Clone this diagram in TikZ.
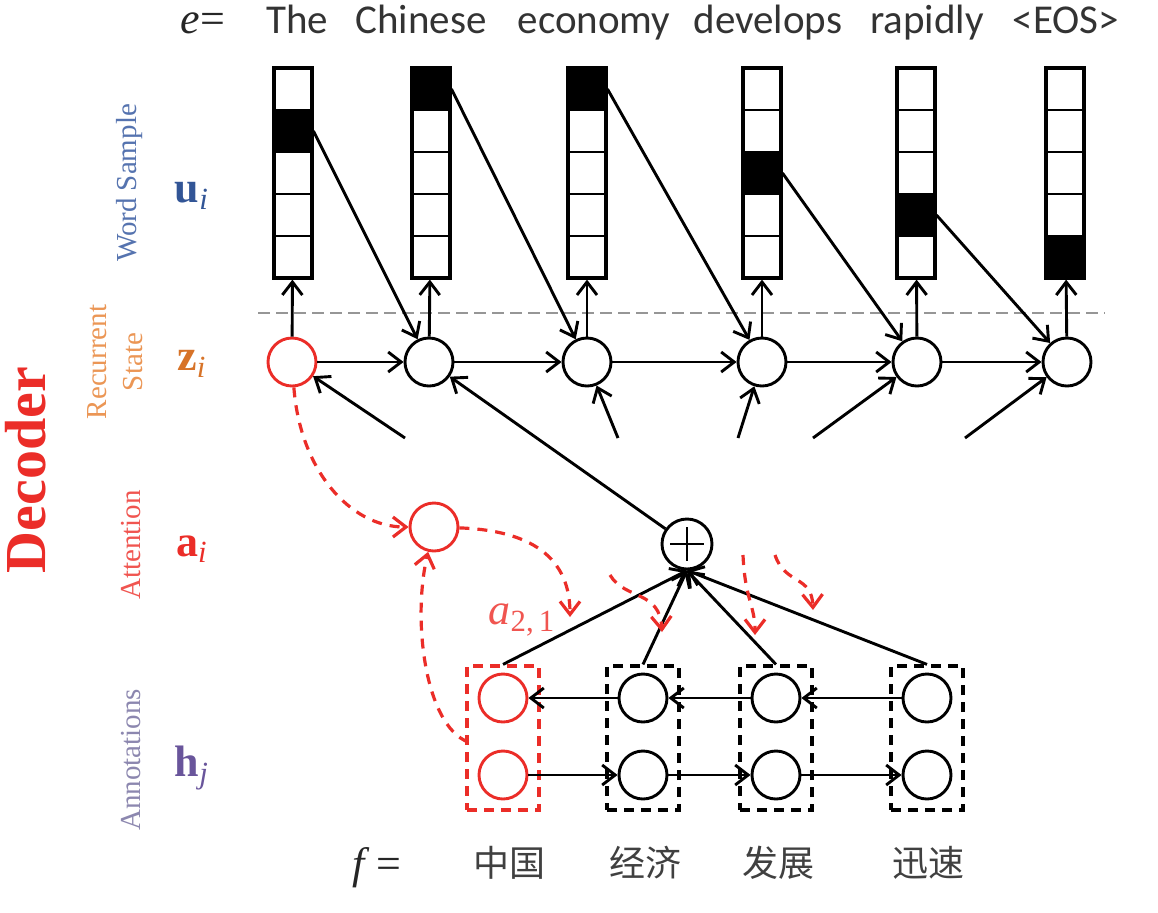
\documentclass[tikz,border=0pt]{standalone}
\usepackage{fontspec}
\setmainfont{Liberation Serif}
\newfontfamily\wordfont{Carlito}
\newfontfamily\cjk{Noto Sans CJK SC}
\usepackage{tikz}
\usetikzlibrary{arrows.meta}

\definecolor{decred}{RGB}{235,45,40}
\definecolor{wsblue}{RGB}{85,115,175}
\definecolor{ublue}{RGB}{50,85,150}
\definecolor{rsorange}{RGB}{235,150,85}
\definecolor{zorange}{RGB}{215,115,40}
\definecolor{attpink}{RGB}{240,85,80}
\definecolor{annpurple}{RGB}{140,135,175}
\definecolor{hpurple}{RGB}{105,85,155}
\definecolor{sepgray}{RGB}{150,150,150}

\tikzset{
  unit/.style={circle, draw, minimum size=24pt, inner sep=0pt},
  bar/.style={draw, line width=1.6pt, minimum width=19pt, minimum height=105pt, inner sep=0pt},
  hot/.style={fill=black, minimum width=19pt, minimum height=21pt, inner sep=0pt},
  pair/.style={draw, line width=1.6pt, dash pattern=on 5pt off 3.5pt, minimum width=36pt, minimum height=72pt, inner sep=0pt},
  attn/.style={->, decred, line width=1.6pt, dash pattern=on 5pt off 4pt},
  word/.style={anchor=base, text=black!80, font=\wordfont\fontsize{20.5}{22}\selectfont},
  side/.style={rotate=90, align=center, font=\fontsize{14.5}{18}\selectfont},
  sym/.style={font=\fontsize{22}{24}\selectfont},
  zh/.style={text=black!75, font=\cjk\fontsize{18}{20}\selectfont},
}

\begin{document}
\begin{tikzpicture}[x=0.5pt, y=-0.5pt, line width=1.45pt, >={Straight Barb[length=6.5pt,width=10pt]}]
\useasboundingbox (0,0) rectangle (1158,912);
% labels on the left
\node[rotate=90, text=decred, font=\bfseries\fontsize{29}{30}\selectfont] (dec) at (26,470) {Decoder};
\node[side, text=wsblue] (ws) at (130,183) {Word Sample};
\node[side, text=rsorange] (rs) at (115,362) {Recurrent\\State};
\node[side, text=attpink] (at) at (131,545) {Attention};
\node[side, text=annpurple] (an) at (131,760) {Annotations};
\node[sym, text=ublue] (ui) at (192,196) {\textbf{u}\textsubscript{\itshape i}};
\node[sym, text=zorange] (zi) at (192,364) {\textbf{z}\textsubscript{\itshape i}};
\node[sym, text=decred] (ai) at (192,549) {\textbf{a}\textsubscript{\itshape i}};
\node[sym, text=hpurple] (hj) at (192,768) {\textbf{h}\textsubscript{\itshape j}};
% target words
\node[anchor=base, text=black!85, font=\fontsize{22}{24}\selectfont] (e) at (203,33) {\textit{e}=};
\node[word] (t1) at (297,33) {The};
\node[word] (t2) at (421,33) {Chinese};
\node[word] (t3) at (594,33) {economy};
\node[word] (t4) at (768,33) {develops};
\node[word] (t5) at (927,33) {rapidly};
\node[word] (t6) at (1066,33) {<EOS>};
% word samples
\node[hot] (w1) at (293,131) {};
\node[hot] (w2) at (431,89) {};
\node[hot] (w3) at (587,89) {};
\node[hot] (w4) at (762,173) {};
\node[hot] (w5) at (916,215) {};
\node[hot] (w6) at (1065,257) {};
\node[bar] (u1) at (293,173) {};
\node[bar] (u2) at (431,173) {};
\node[bar] (u3) at (587,173) {};
\node[bar] (u4) at (762,173) {};
\node[bar] (u5) at (916,173) {};
\node[bar] (u6) at (1065,173) {};
\draw (274,110) -- (312,110) (274,152) -- (312,152) (274,194) -- (312,194) (274,236) -- (312,236);
\draw (412,110) -- (450,110) (412,152) -- (450,152) (412,194) -- (450,194) (412,236) -- (450,236);
\draw (568,110) -- (606,110) (568,152) -- (606,152) (568,194) -- (606,194) (568,236) -- (606,236);
\draw (743,110) -- (781,110) (743,152) -- (781,152) (743,194) -- (781,194) (743,236) -- (781,236);
\draw (897,110) -- (935,110) (897,152) -- (935,152) (897,194) -- (935,194) (897,236) -- (935,236);
\draw (1046,110) -- (1084,110) (1046,152) -- (1084,152) (1046,194) -- (1084,194) (1046,236) -- (1084,236);
\coordinate (sepL) at (258,313);
\coordinate (sepR) at (1105,313);
\draw[sepgray, dash pattern=on 6pt off 3pt] (sepL) -- (sepR);
% recurrent states
\node[unit, draw=decred] (z1) at (292,362) {};
\node[unit] (z2) at (429,362) {};
\node[unit] (z3) at (587,362) {};
\node[unit] (z4) at (762,362) {};
\node[unit] (z5) at (917,362) {};
\node[unit] (z6) at (1067,362) {};
\draw[->] (z1) -- (u1);
\draw[->] (z2) -- (u2);
\draw[->] (z3) -- (u3);
\draw[->] (z4) -- (u4);
\draw[->] (z5) -- (u5);
\draw[->] (z6) -- (u6);
\draw[->] (z1) -- (z2);
\draw[->] (z2) -- (z3);
\draw[->] (z3) -- (z4);
\draw[->] (z4) -- (z5);
\draw[->] (z5) -- (z6);
\draw[->] (w1.east) -- (z2);
\draw[->] (w2.east) -- (z3);
\draw[->] (w3.east) -- (z4);
\draw[->] (w4.east) -- (z5);
\draw[->] (w5.east) -- (z6);
\coordinate (s1) at (405,438);
\coordinate (s3) at (618,438);
\coordinate (s4) at (738,438);
\coordinate (s5) at (813,438);
\coordinate (s6) at (965,438);
\draw[->] (s1) -- (z1);
\draw[->] (s3) -- (z3);
\draw[->] (s4) -- (z4);
\draw[->] (s5) -- (z5);
\draw[->] (s6) -- (z6);
% attention and context
\node[unit, draw=decred] (att) at (434,527) {};
\node[unit, minimum size=25pt, path picture={
  \draw[line width=1.2pt] ([yshift=-4pt]path picture bounding box.north) -- ([yshift=4pt]path picture bounding box.south)
  ([xshift=4pt]path picture bounding box.west) -- ([xshift=-4pt]path picture bounding box.east);}] (plus) at (687,544) {};
\draw[->] (plus) -- (z2);
% annotations
\node[pair, draw=decred] (p1) at (503,738) {};
\node[pair] (p2) at (643,738) {};
\node[pair] (p3) at (776,738) {};
\node[pair] (p4) at (927,738) {};
\node[unit, draw=decred] (b1) at (503,698) {};
\node[unit] (b2) at (643,698) {};
\node[unit] (b3) at (776,698) {};
\node[unit] (b4) at (927,698) {};
\node[unit, draw=decred] (f1) at (503,775) {};
\node[unit] (f2) at (643,775) {};
\node[unit] (f3) at (776,775) {};
\node[unit] (f4) at (927,775) {};
\draw[->] (b4) -- (b3);
\draw[->] (b3) -- (b2);
\draw[->] (b2) -- (b1);
\draw[->] (f1) -- (f2);
\draw[->] (f2) -- (f3);
\draw[->] (f3) -- (f4);
\draw[->] (p1.north) -- (plus.south);
\draw[->] (p2.north) -- (plus.south);
\draw[->] (p3.north) -- (plus.south);
\draw[->] (p4.north) -- (plus.south);
% attention weights
\coordinate (r1) at (468,742);
\coordinate (q1) at (570,617);
\coordinate (q2s) at (610,575);
\coordinate (q2) at (662,632);
\coordinate (q3s) at (743,555);
\coordinate (q3) at (755,635);
\coordinate (q4s) at (775,555);
\coordinate (q4) at (813,610);
\draw[attn] (z1) .. controls (300,470) and (350,527) .. (att);
\draw[attn] (r1) .. controls (425,725) and (412,620) .. (att);
\draw[attn] (att) .. controls (520,530) and (570,550) .. (q1);
\draw[attn] (q2s) .. controls (625,600) and (660,590) .. (q2);
\draw[attn] (q3s) .. controls (745,600) and (755,605) .. (q3);
\draw[attn] (q4s) .. controls (785,585) and (812,575) .. (q4);
\node[text=attpink, font=\fontsize{22}{24}\selectfont] (a21) at (522,620) {\textit{a}\textsubscript{2,\,1}};
% source words
\node[anchor=base, text=black!85, font=\fontsize{22}{24}\selectfont] (f) at (377,878) {\textit{f}\,=};
\node[zh] (c1) at (509,863) {中国};
\node[zh] (c2) at (645,863) {经济};
\node[zh] (c3) at (778,863) {发展};
\node[zh] (c4) at (928,863) {迅速};
\end{tikzpicture}
\end{document}
